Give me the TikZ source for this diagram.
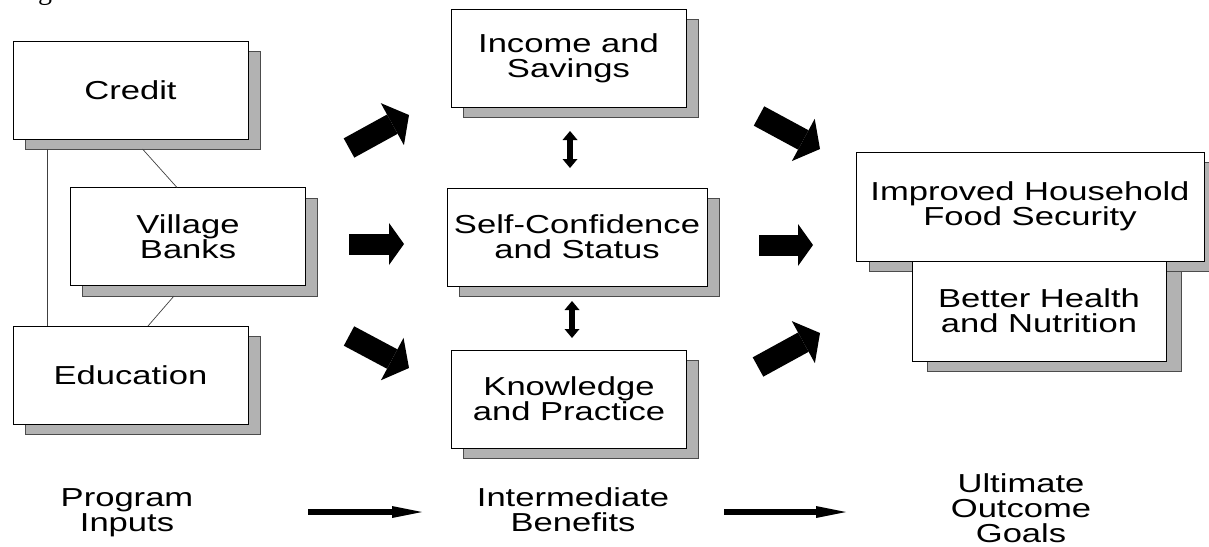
\documentclass[tikz,border=0pt]{standalone}
\usepackage{fontspec}
\setmainfont{Liberation Sans}
\newfontfamily\lblfont[FakeStretch=1.33]{Liberation Sans}
\newfontfamily\capfont{Liberation Serif}
\usetikzlibrary{arrows.meta,calc}

\begin{document}
\begin{tikzpicture}[x=1pt,y=-1pt,
  every node/.style={inner sep=0pt, outer sep=0pt},
  lbl/.style={font=\lblfont\fontsize{26}{25}\selectfont, align=center},
  box/.style={lbl, draw=black, line width=0.9pt, fill=white,
              minimum width=235pt, minimum height=98pt},
  shade/.style={draw=black!70, line width=0.8pt, fill=black!30,
                minimum width=235pt, minimum height=98pt},
  link/.style={draw=black!75, line width=0.7pt},
  bigarrow/.style={line width=21pt,
                   -{Triangle[width=42pt,length=15pt,line width=0pt]}},
  slantarrow/.style={line width=22pt,
                   -{Triangle[width=48pt,length=19pt,line width=0pt]}},
  twoway/.style={line width=6pt,
                 {Triangle[width=15pt,length=9pt,line width=0pt]}-{Triangle[width=15pt,length=9pt,line width=0pt]}},
  stagearrow/.style={line width=6pt,
                     -{Triangle[width=12pt,length=30pt,line width=0pt]}}
]
\useasboundingbox (0,0) rectangle (1209,546);
\clip (0,0) rectangle (1209,546);

% caption fragment at the top edge
\node[font=\capfont\fontsize{28}{30}\selectfont, anchor=base] (fig) at (45,-1) {g};

% program inputs
\node[shade] (credsh) at (142.5,100) {};
\node[box] (cred) at (130.5,90) {Credit};
\node[shade] (vilsh) at (200,247) {};
\node[box] (vil) at (188,236.5) {Village\\Banks};
\node[shade] (edush) at (142.5,385) {};
\node[box] (edu) at (130.5,375) {Education};

% intermediate benefits
\node[shade] (incsh) at (580.5,68) {};
\node[box] (inc) at (568.5,58) {Income and\\Savings};
\node[shade, minimum width=260pt] (selfsh) at (589,247) {};
\node[box, minimum width=260pt] (self) at (577,237) {Self-Confidence\\and Status};
\node[shade] (knosh) at (581,409) {};
\node[box] (kno) at (569,399) {Knowledge\\and Practice};

% ultimate outcome goals
\node[shade, minimum width=348pt, minimum height=109pt] (impsh) at (1043,216.5) {};
\node[box, minimum width=348pt, minimum height=109pt] (imp) at (1030,206.5) {Improved Household\\Food Security};
\node[shade, minimum width=254pt, minimum height=100pt] (betsh) at (1054,321) {};
\node[box, minimum width=254pt, minimum height=100pt] (bet) at (1039,311) {Better Health\\and Nutrition};

% links between the inputs
\coordinate (lx) at (47,0);
\draw[link] (credsh.south -| lx) -- (edu.north -| lx);
\draw[link] (credsh.south) -- ($(vil.north)+(-11,0)$);
\draw[link] ($(vilsh.south)+(-26,0)$) -- ($(edu.north)+(17.5,0)$);

% two-way arrows in the middle column
\coordinate (ax1) at (570,0);
\coordinate (ax2) at (572,0);
\draw[twoway, shorten <=14pt, shorten >=20pt] (incsh.south -| ax1) -- (self.north -| ax1);
\draw[twoway, shorten <=5pt, shorten >=12pt] (selfsh.south -| ax2) -- (kno.north -| ax2);

% block arrows between the columns
\coordinate (a1s) at (349,148); \coordinate (a1e) at (409,115);
\coordinate (a2s) at (349,244); \coordinate (a2e) at (404,244);
\coordinate (a3s) at (349,336); \coordinate (a3e) at (409,368);
\coordinate (b1s) at (759,116); \coordinate (b1e) at (820,149);
\coordinate (b2s) at (759,245); \coordinate (b2e) at (813,245);
\coordinate (b3s) at (758,367); \coordinate (b3e) at (820,333);
\draw[slantarrow] (a1s) -- (a1e);
\draw[bigarrow] (a2s) -- (a2e);
\draw[slantarrow] (a3s) -- (a3e);
\draw[slantarrow] (b1s) -- (b1e);
\draw[bigarrow] (b2s) -- (b2e);
\draw[slantarrow] (b3s) -- (b3e);

% stage labels along the bottom
\node[lbl] (inputs) at (127,513) {Program\\Inputs};
\node[lbl] (benefits) at (573,510) {Intermediate\\Benefits};
\node[lbl] (goals) at (1021,508) {Ultimate\\Outcome\\Goals};
\coordinate (s1s) at (308,512); \coordinate (s1e) at (422,512);
\coordinate (s2s) at (724,512); \coordinate (s2e) at (846,512);
\draw[stagearrow] (s1s) -- (s1e);
\draw[stagearrow] (s2s) -- (s2e);
\end{tikzpicture}
\end{document}
